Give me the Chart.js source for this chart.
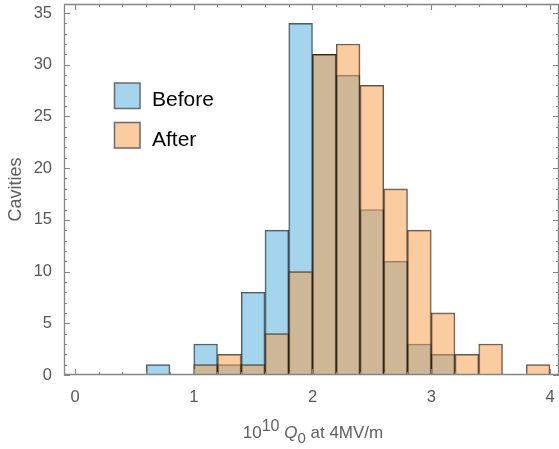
<!DOCTYPE html>
<html><head><meta charset="utf-8">
<script src="https://cdn.jsdelivr.net/npm/chart.js@4"></script>
<style>html,body{margin:0;padding:0;background:#fff;}canvas{display:block;}</style>
</head><body>
<canvas id="c" width="559" height="449"></canvas>
<script>
// ---- data ----
const binCenters   = [0.7,0.9,1.1,1.3,1.5,1.7,1.9,2.1,2.3,2.5,2.7,2.9,3.1,3.3,3.5,3.7,3.9];
const beforeCounts = [1,0,3,1,8,14,34,31,29,16,11,3,2,0,0,0,0];
const afterCounts  = [0,0,1,2,1,4,10,31,32,28,18,14,6,2,3,0,1];
const seriesLabels = ['Before','After'];
const xTickValues  = [0,1,2,3,4];
const yTickValues  = [0,5,10,15,20,25,30,35];
const yAxisTitle   = 'Cavities';

const FONT = "'Liberation Sans', Arial, Helvetica, sans-serif";
const toPoints = arr => binCenters.map((c,i) => ({x:c, y: arr[i] === 0 ? null : arr[i]}));

// minor tick positions (styling only)
const xMinor = []; for (let i = 0; i <= 20; i++) xMinor.push(i*0.2);
const yMinor = []; for (let i = 0; i <= 35; i++) yMinor.push(i);

const framePlugin = {
  id: 'frame',
  afterDatasetsDraw(chart) {
    const {ctx, chartArea: a, scales: {x, y}} = chart;
    ctx.save();
    ctx.strokeStyle = '#858585';
    ctx.lineWidth = 1.3;
    ctx.beginPath();
    ctx.rect(a.left + 0.5, a.top + 0.5, a.right - a.left - 1, a.bottom - a.top - 1);
    ctx.stroke();
    ctx.lineWidth = 1.1;
    ctx.beginPath();
    xMinor.forEach(v => {
      const px = Math.round(x.getPixelForValue(v)) + 0.5;
      const major = xTickValues.some(t => Math.abs(t - v) < 1e-6);
      const L = major ? 6 : 3;
      ctx.moveTo(px, a.bottom); ctx.lineTo(px, a.bottom - L);
      ctx.moveTo(px, a.top); ctx.lineTo(px, a.top + L);
    });
    yMinor.forEach(v => {
      const py = Math.round(y.getPixelForValue(v)) + 0.5;
      const major = yTickValues.includes(v);
      const L = major ? 6 : 3;
      ctx.moveTo(a.left, py); ctx.lineTo(a.left + L, py);
      ctx.moveTo(a.right, py); ctx.lineTo(a.right - L, py);
    });
    ctx.stroke();
    ctx.restore();
  },
  afterDraw(chart) {
    const {ctx, chartArea: a} = chart;
    ctx.save();
    // legend inside plot
    const ds = chart.data.datasets;
    const sx = 114.5, sy = [83, 122.5], sz = 25.5;
    ds.forEach((d, i) => {
      ctx.fillStyle = '#fff';
      ctx.fillRect(sx, sy[i], sz, sz);
      ctx.fillStyle = d.backgroundColor;
      ctx.fillRect(sx, sy[i], sz, sz);
      ctx.strokeStyle = '#6a6a6a';
      ctx.lineWidth = 1.5;
      ctx.strokeRect(sx, sy[i], sz, sz);
      ctx.fillStyle = '#000';
      ctx.font = `21px ${FONT}`;
      ctx.textBaseline = 'alphabetic';
      ctx.textAlign = 'left';
      ctx.fillText(d.label, 152, sy[i] + 23);
    });
    // x-axis title with super/subscripts
    const segs = [
      {t:'10', f:`17px ${FONT}`, dy:0},
      {t:'10', f:`16px ${FONT}`, dy:-7.3},
      {t:' ',  f:`17px ${FONT}`, dy:0},
      {t:'Q',  f:`italic 17px ${FONT}`, dy:0},
      {t:'0',  f:`15px ${FONT}`, dy:5},
      {t:' at 4MV/m', f:`17px ${FONT}`, dy:0}
    ];
    let w = 0;
    segs.forEach(s => { ctx.font = s.f; s.w = ctx.measureText(s.t).width; w += s.w; });
    let cx = (a.left + a.right) / 2 + 1.5 - w / 2;
    const base = 438.3;
    ctx.fillStyle = '#606060';
    ctx.textAlign = 'left';
    ctx.textBaseline = 'alphabetic';
    segs.forEach(s => { ctx.font = s.f; ctx.fillText(s.t, cx, base + s.dy); cx += s.w; });
    ctx.restore();
  }
};

new Chart(document.getElementById('c'), {
  type: 'bar',
  data: {
    datasets: [
      {
        label: seriesLabels[0],
        data: toPoints(beforeCounts),
        backgroundColor: 'rgba(75,171,219,0.5)',
        borderColor: 'rgba(20,20,20,0.7)',
        borderWidth: 1,
        grouped: false,
        order: 2,
        barPercentage: 1,
        categoryPercentage: 1
      },
      {
        label: seriesLabels[1],
        data: toPoints(afterCounts),
        backgroundColor: 'rgba(245,153,65,0.5)',
        borderColor: 'rgba(20,20,20,0.7)',
        borderWidth: 1,
        grouped: false,
        order: 1,
        barPercentage: 1,
        categoryPercentage: 1
      }
    ]
  },
  options: {
    responsive: false,
    animation: false,
    devicePixelRatio: 1,
    layout: { padding: { top: 4, right: 0, bottom: 0, left: 0 } },
    plugins: { legend: { display: false }, tooltip: { enabled: false }, title: { display: false } },
    scales: {
      x: {
        type: 'linear',
        position: 'bottom',
        offset: false,
        min: -0.0926,
        max: 4.0758,
        afterBuildTicks: s => { s.ticks = xTickValues.map(v => ({value: v})); },
        afterFit: s => { s.height = 74; s.paddingLeft = 0; s.paddingRight = 0; },
        grid: { display: false, drawTicks: false, offset: false },
        border: { display: false },
        ticks: { padding: 13, color: '#585858', font: { size: 16.5, family: FONT }, maxRotation: 0, autoSkip: false,
                 callback: v => String(v) }
      },
      y: {
        type: 'linear',
        position: 'left',
        min: 0,
        max: 35.87,
        afterBuildTicks: s => { s.ticks = yTickValues.map(v => ({value: v})); },
        afterFit: s => { s.width = 64; s.paddingTop = 0; s.paddingBottom = 0; },
        grid: { display: false, drawTicks: false },
        border: { display: false },
        ticks: { padding: 12, color: '#585858', font: { size: 16.5, family: FONT }, autoSkip: false,
                 callback: v => String(v) },
        title: { display: true, text: yAxisTitle, color: '#606060', font: { size: 18, family: FONT },
                 padding: { top: 5, bottom: 0 } }
      }
    }
  },
  plugins: [framePlugin]
});
</script>
</body></html>
